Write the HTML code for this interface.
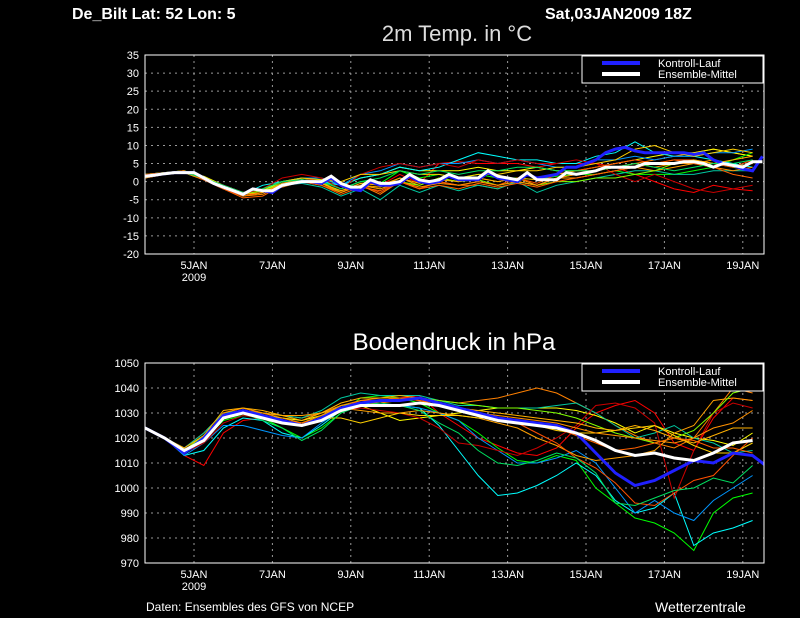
<!DOCTYPE html>
<html><head><meta charset="utf-8">
<style>
html,body{margin:0;padding:0;background:#000;}
svg{display:block;font-family:"Liberation Sans",sans-serif;}
</style></head>
<body>
<svg id="c" width="800" height="618" viewBox="0 0 800 618">
<rect width="800" height="618" fill="#000"/>
<text x="72" y="19" fill="#fff" font-size="16" font-weight="bold">De_Bilt   Lat: 52  Lon: 5</text>
<text x="545" y="19" fill="#fff" font-size="16" font-weight="bold">Sat,03JAN2009  18Z</text>
<text x="457" y="41" fill="#ddd" font-size="22" text-anchor="middle">2m Temp. in °C</text>
<text x="454" y="350" fill="#fff" font-size="24" text-anchor="middle">Bodendruck in hPa</text>
<text x="146" y="611" fill="#fff" font-size="12">Daten: Ensembles des GFS von NCEP</text>
<text x="655" y="612" fill="#fff" font-size="14">Wetterzentrale</text>
<g id="g"></g>
</svg>
<script>
// shared data
const dateLabels=["5JAN","7JAN","9JAN","11JAN","13JAN","15JAN","17JAN","19JAN"];
const dateDays=[1.25,3.25,5.25,7.25,9.25,11.25,13.25,15.25];
const tempTicks=[35,30,25,20,15,10,5,0,-5,-10,-15,-20];
const presTicks=[1050,1040,1030,1020,1010,1000,990,980,970];
const memberColors=["#ff0000","#ff8000","#ffff00","#00ff00","#00ffff","#00c8a0","#0096ff","#ffa000","#c80000","#80ff00","#ffd000","#ff5000","#ff9000","#ffb000","#ff6000","#00e060"];
// temperature (6h steps)
const tempMean=[1.5,1.8,2.2,2.5,2.5,2.5,1,-0.5,-1.5,-2.5,-3.5,-2,-2.5,-2.5,-1,-0.5,0,0,0,1.5,-0.5,-1.5,-1.5,0.5,-0.5,-0.5,0,2,0.5,0,0.5,2,1,1,1,3,1.5,1,0.5,2.5,0.5,0.5,0.5,2.5,2,2.5,3,4,4,4,4,5,5,5,5,5.5,5.5,5,4,5,4.5,4,5.5,5.5];
const tempCtrl=[1.5,1.8,2.2,2.5,2.5,2.5,1,-0.5,-1.5,-2.5,-3.5,-2,-2.5,-3,-1,-0.5,0,0,-0.5,1,-1,-2,-2.5,0,-1,-1,-0.5,1.5,0,-0.5,0,1.5,0.5,0.5,0.5,2.5,1,0.5,0,2,1,1.5,2,4,4,5,6,8,9,9.5,8.5,8,8,8,8,8,7.5,8,6,5,4.5,3.5,3,7];
// temperature members (12h steps)
const tempM=[
[1,2,2.5,1,-1,-3,-2,-1,1,0,-2,0,-1,2,-0.5,5,5.5,5,5,5,4,5,5,5,4,2,0,-2,-3,-1,-2,-2.5],
[2,2.5,3,0.5,-2,-4,-3,-1.5,0,-0.5,-3,-1,-3.5,0,-2,0,-1,-1,-2,0,-1,1,2,3,4,5,6,7,8,9,8,7],
[1.5,2,2.5,1.5,-1,-3,-2.5,0,1,1,-1,1,2,4,3,3,3,4,3,3,4,3,3,4,5,6,7,8,8,9,8,7],
[2,2.5,3,1,-1.5,-3.5,-2,0,1,0.5,-2,0,-0.5,3,1,2,1,2,1,1,0.5,1.5,2,2,3,2,2,2,3,4,6,8],
[1,2,2.5,1,-1.5,-3.5,-1,0,0.5,0,-1,1,2,4,3,4,6,8,7,6,6,5,5,7,8,11,8,7,7,6,5,4],
[1.5,2,2.5,0.5,-2,-4,-3,-1,-0.5,-1.5,-4,-2,-5,-1,-3,-1,-2.5,-1,-2,0,-3,-1,0,1,2,3,3,2,2,3,3,3],
[2,2.5,3,1,-1,-3,-2,0,1,1,-1,2,3,5,4,5,5,6,5,6,5,4,4,6,6,7,6,7,7,8,8,9],
[1.5,2,2.5,0.5,-2,-4,-3,-1,0,-0.5,-2.5,-1,-1.5,1,-1,1,0,1,0,1,-1,1,1,2,3,4,3,4,5,6,4,5],
[1,2,2.5,1,-1.5,-3.5,-2,1,2,1,-2,2,4,5,4,5,4,6,5,6,5,5,6,5,2,0,2,0,-2,-3,-2,-1],
[2,2.5,3,1,-1.5,-3.5,-2.5,-0.5,0.5,0,-3,-1,-2,0,-1,1,0,0.5,-1,0,-1,0,0,1,1,2,3,5,6,5,4,3],
[1.5,2,2.5,1,-1,-3,-2,0,1,0.5,0,2,2,3,2,2,1,2,2,3,3,4,4,5,6,9,10,8,7,8,9,8],
[1,2,2.5,0.5,-2,-4,-3,-1,0,-1,-3,-1,-3,0,-2,0,-1,0,-1,1,-0.5,2,3,4,5,6,5,6,6,5,4,6],
[1.5,2,2.5,0.5,-1.5,-4,-3.5,-1,0,-1,-3,-1,-2,0,-1.5,-0.5,-1,0,-1,0,-1,1,2,3,4,5,4,5,5,4,3,4],
[1,2,2.5,1,-1.5,-3.5,-3,-0.5,0.5,-0.5,-2.5,-0.5,-1,1,-0.5,0.5,0,1,0,1,0.5,2,3,3,4,4,5,5,6,5,6,7],
[2,2.5,3,0.5,-2,-4.5,-4,-1,0,-1,-3.5,-1.5,-2.5,0,-2,-1,-2,-0.5,-1.5,-0.5,-1.5,0,1,2,3,4,5,6,5,4,2,1],
[1.5,2,2.5,1,-1,-3,-2,0,0.5,0,-2,0,1,3,2,3,2,3,3,4,4,3,3,3,4,5,4,3,4,5,5,6]];
// pressure (12h steps)
const presMean=[1024,1020,1015,1019,1028,1030,1028,1026,1025,1027,1031,1033,1033,1033,1034,1033,1031,1029,1027,1026,1025,1024,1022,1019,1015,1013,1014,1012,1011,1014,1018,1019];
const presCtrl=[1024,1020,1014,1020,1029,1031,1029,1027,1025,1028,1032,1034,1035,1035,1036,1034,1032,1030,1028,1027,1026,1025,1022,1014,1006,1001,1003,1007,1011,1010,1014,1013,1007];
const presM=[
[1024,1020,1013,1009,1022,1027,1028,1027,1025,1028,1032,1033,1034,1036,1037,1030,1025,1020,1017,1014,1013,1016,1024,1030,1033,1035,1030,1018,1015,1028,1036,1035],
[1024,1020,1016,1022,1030,1032,1030,1029,1028,1030,1033,1034,1034,1035,1036,1035,1034,1035,1036,1038,1040,1038,1034,1030,1025,1021,1018,1016,1020,1030,1040,1038],
[1024,1020,1015,1021,1029,1031,1029,1028,1027,1029,1032,1033,1030,1027,1028,1029,1030,1031,1032,1032,1032,1032,1031,1029,1026,1022,1025,1022,1020,1019,1017,1022],
[1024,1020,1014,1019,1027,1029,1028,1024,1020,1024,1030,1036,1037,1036,1034,1030,1027,1022,1016,1011,1010,1013,1011,1000,994,988,986,982,975,990,996,998],
[1024,1020,1013,1015,1024,1028,1027,1022,1020,1025,1031,1034,1033,1033,1032,1025,1015,1005,997,998,1001,1005,1010,1005,995,990,992,998,977,982,984,987],
[1024,1020,1016,1022,1030,1031,1030,1029,1028,1031,1036,1038,1037,1037,1037,1035,1033,1033,1032,1032,1032,1033,1034,1030,1025,1020,1022,1025,1020,1018,1014,1015],
[1024,1020,1013,1018,1025,1025,1023,1021,1020,1026,1031,1033,1033,1033,1032,1030,1027,1020,1015,1010,1010,1012,1015,1010,1000,990,995,990,987,995,1000,1005],
[1024,1020,1015,1020,1029,1031,1030,1029,1029,1030,1032,1031,1030,1030,1031,1030,1029,1028,1026,1024,1020,1017,1013,1011,1012,1013,1015,1022,1025,1035,1036,1035],
[1024,1020,1014,1018,1026,1029,1028,1026,1025,1028,1031,1032,1031,1030,1028,1024,1018,1017,1015,1013,1016,1020,1025,1033,1034,1032,1026,996,1015,1030,1034,1032],
[1024,1020,1015,1021,1029,1031,1029,1027,1026,1029,1033,1034,1035,1036,1036,1035,1034,1033,1032,1032,1031,1030,1028,1025,1022,1020,1018,1020,1023,1030,1038,1040],
[1024,1020,1015,1020,1028,1030,1029,1027,1026,1028,1028,1026,1028,1030,1029,1029,1029,1028,1028,1027,1025,1023,1022,1022,1023,1024,1025,1021,1017,1014,1014,1018],
[1024,1020,1014,1019,1028,1030,1028,1026,1025,1027,1032,1035,1035,1036,1036,1034,1031,1029,1028,1026,1022,1018,1012,1008,1002,994,993,998,1003,1005,1013,1020],
[1024,1020,1015,1020,1030,1032,1030,1028,1026,1029,1033,1035,1036,1036,1035,1033,1032,1030,1029,1028,1027,1026,1024,1022,1021,1020,1019,1018,1020,1024,1026,1031],
[1024,1020,1016,1021,1031,1032,1031,1029,1027,1030,1034,1036,1036,1037,1036,1034,1032,1031,1030,1029,1028,1027,1026,1024,1023,1025,1023,1020,1018,1021,1024,1024],
[1024,1020,1014,1020,1029,1031,1029,1027,1026,1028,1032,1034,1035,1036,1035,1034,1032,1030,1028,1027,1026,1024,1021,1018,1015,1016,1018,1020,1019,1016,1016,1014],
[1024,1020,1015,1020,1028,1030,1027,1024,1019,1023,1030,1033,1034,1033,1031,1026,1022,1015,1010,1009,1011,1014,1012,1006,994,993,996,999,1000,1004,1002,1009]];

const NS="http://www.w3.org/2000/svg";
const G=document.getElementById('g');
function mk(tag,attrs,parent){const e=document.createElementNS(NS,tag);for(const k in attrs)e.setAttribute(k,attrs[k]);(parent||G).appendChild(e);return e;}
const X0=145,X1=764,PXD=39.2;
const xOf=d=>X0+d*PXD;

function panel(name,yTop,yBot,vMax,vMin,ticks,mean,meanStep,ctrl,ctrlStep,members,memStep,showYear){
  const yOf=v=>yTop+(vMax-v)/(vMax-vMin)*(yBot-yTop);
  const grp=mk('g',{});
  
  
  const clipId=name+'-clip';
  const cp=mk('clipPath',{id:clipId},grp);mk('rect',{x:X0,y:yTop,width:X1-X0,height:yBot-yTop},cp);
  ticks.forEach(t=>{
    const y=yOf(t);
    const gl=mk('line',{x1:X0,x2:X1,y1:y,y2:y,stroke:'#999','stroke-width':1,'stroke-dasharray':'2,4'},grp);
    
    
    const tl=mk('text',{x:X0-6,y:y+4,fill:'#fff','font-size':11,'text-anchor':'end'},grp);
    tl.textContent=t;
    
    
  });
  dateDays.forEach((d,i)=>{
    const x=xOf(d);
    const gl=mk('line',{x1:x,x2:x,y1:yTop,y2:yBot,stroke:'#999','stroke-width':1,'stroke-dasharray':'2,4'},grp);
    
    
    const tl=mk('text',{x:x,y:yBot+15,fill:'#fff','font-size':11,'text-anchor':'middle'},grp);
    tl.textContent=dateLabels[i];
    
    
  });
  if(showYear){const yl=mk('text',{x:xOf(1.25),y:yBot+27,fill:'#fff','font-size':11,'text-anchor':'middle'},grp);yl.textContent='2009';
    
    }
  const lines=mk('g',{'clip-path':'url(#'+clipId+')'},grp);
  const pts=(arr,step)=>arr.map((v,i)=>xOf(i*step).toFixed(1)+','+yOf(v).toFixed(1)).join(' ');
  members.forEach((m,i)=>{
    const p=mk('polyline',{points:pts(m,memStep),fill:'none',stroke:memberColors[i%memberColors.length],'stroke-width':1},lines);
    
    
  });
  const c=mk('polyline',{points:pts(ctrl,ctrlStep),fill:'none',stroke:'#2020ff','stroke-width':3},lines);
  
  
  const m=mk('polyline',{points:pts(mean,meanStep),fill:'none',stroke:'#fff','stroke-width':3},lines);
  
  
  const fr=mk('rect',{x:X0,y:yTop,width:X1-X0,height:yBot-yTop,fill:'none',stroke:'#fff','stroke-width':1},grp);
  
  
  const lg=mk('g',{},grp);
  
  
  mk('rect',{x:582,y:yTop+1,width:181,height:27,fill:'#000',stroke:'#fff','stroke-width':1},lg);
  mk('line',{x1:602,x2:640,y1:yTop+8,y2:yTop+8,stroke:'#2020ff','stroke-width':4},lg);
  mk('line',{x1:602,x2:640,y1:yTop+19,y2:yTop+19,stroke:'#fff','stroke-width':4},lg);
  const t1=mk('text',{x:658,y:yTop+12,fill:'#fff','font-size':11},lg);t1.textContent='Kontroll-Lauf';
  
  
  const t2=mk('text',{x:658,y:yTop+23,fill:'#fff','font-size':11},lg);t2.textContent='Ensemble-Mittel';
  
  
}
panel('temperature',55,254,35,-20,tempTicks,tempMean,0.25,tempCtrl,0.25,tempM,0.5,true);
panel('pressure',363,563,1050,970,presTicks,presMean,0.5,presCtrl,0.5,presM,0.5,true);
</script>
</body></html>
